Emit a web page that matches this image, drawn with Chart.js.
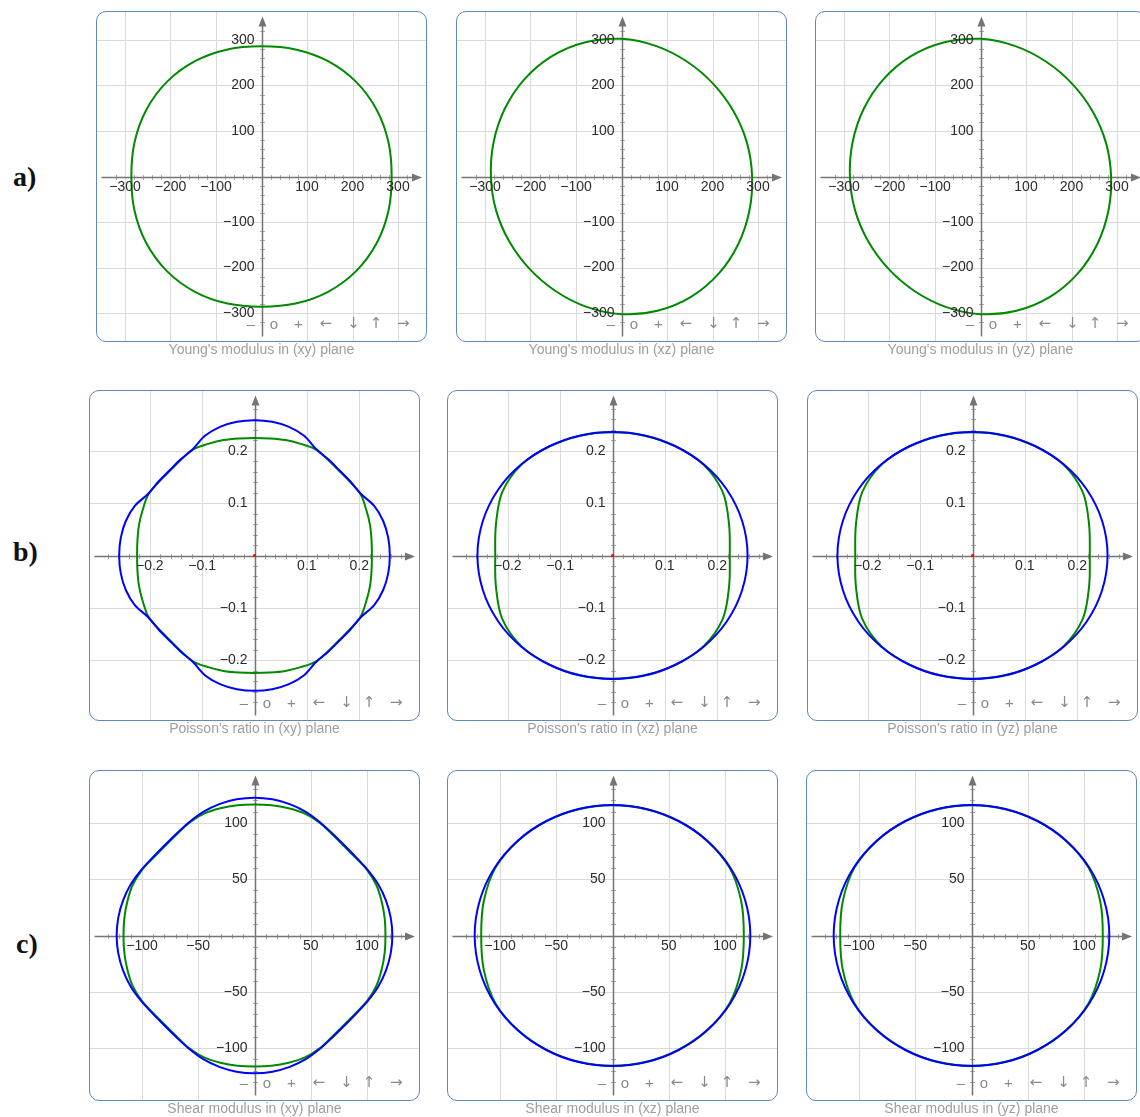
<!DOCTYPE html>
<html>
<head>
<meta charset="utf-8">
<title>Elastic properties – planar projections</title>
<script src="https://cdn.jsdelivr.net/npm/chart.js@4.4.1/dist/chart.umd.min.js"></script>
<style>
  html, body { margin: 0; padding: 0; background: #fff; }
  body { position: relative; width: 1140px; height: 1117px; overflow: hidden;
         font-family: "Liberation Sans", Arial, sans-serif; }
  .box { position: absolute; width: 331px; height: 331px; box-sizing: border-box;
         border: 1px solid #5f88bd; border-radius: 10px; overflow: hidden; background: #fff; }
  .box canvas { position: absolute; left: 0; top: 0; }
  .nav { position: absolute; transform: translate(-50%, -50%); font-size: 15px; line-height: 1;
         color: #8a8a8a; white-space: nowrap; }
  .nav.arrow { font-family: "DejaVu Sans", sans-serif; font-size: 15px; }
  .cap { position: absolute; width: 331px; text-align: center; font-size: 14px; line-height: 16px;
         color: #9e9e9e; white-space: nowrap; }
  .row { position: absolute; font-family: "Liberation Serif", "DejaVu Serif", serif; font-weight: bold;
         font-size: 28px; line-height: 28px; color: #111; }
</style>
</head>
<body>
<script>
// Polar angles (degrees) at which each directional value is given
const ANG = [0, 15, 30, 45, 60, 75, 90, 105, 120, 135, 150, 165,
             180, 195, 210, 225, 240, 255, 270, 285, 300, 315, 330, 345];
const ANG_FINE = [0, 7.5, 15, 22.5, 30, 37.5, 45, 52.5, 60, 67.5, 75, 82.5,
                  90, 97.5, 105, 112.5, 120, 127.5, 135, 142.5, 150, 157.5, 165, 172.5,
                  180, 187.5, 195, 202.5, 210, 217.5, 225, 232.5, 240, 247.5, 255, 262.5,
                  270, 277.5, 285, 292.5, 300, 307.5, 315, 322.5, 330, 337.5, 345, 352.5];

// Young's modulus (GPa) in each plane
const youngXY = [286, 289, 292.5, 294, 292.5, 289, 286, 289, 292.5, 294, 292.5, 289,
                 286, 289, 292.5, 294, 292.5, 289, 286, 289, 292.5, 294, 292.5, 289];
const youngXZ = [287, 285.5, 285, 286.5, 290.5, 296.5, 302.5, 305.5, 305.5, 302, 296.5, 291,
                 287, 285.5, 285, 286.5, 290.5, 296.5, 302.5, 305.5, 305.5, 302, 296.5, 291];
const youngYZ = [287, 285.5, 285, 286.5, 290.5, 296.5, 302.5, 305.5, 305.5, 302, 296.5, 291,
                 287, 285.5, 285, 286.5, 290.5, 296.5, 302.5, 305.5, 305.5, 302, 296.5, 291];

// Poisson's ratio: minimum (green) and maximum (blue); (xy) sampled on ANG_FINE
const poissonXYMin = [0.2243, 0.2255, 0.2283, 0.2308, 0.234, 0.2305, 0.2286, 0.2305, 0.234, 0.2308, 0.2283, 0.2255,
                      0.2243, 0.2255, 0.2283, 0.2308, 0.234, 0.2305, 0.2286, 0.2305, 0.234, 0.2308, 0.2283, 0.2255,
                      0.2243, 0.2255, 0.2283, 0.2308, 0.234, 0.2305, 0.2286, 0.2305, 0.234, 0.2308, 0.2283, 0.2255,
                      0.2243, 0.2255, 0.2283, 0.2308, 0.234, 0.2305, 0.2286, 0.2305, 0.234, 0.2308, 0.2283, 0.2255];
const poissonXYMax = [0.2585, 0.2577, 0.2545, 0.2475, 0.235, 0.2315, 0.2298, 0.2315, 0.235, 0.2475, 0.2545, 0.2577,
                      0.2585, 0.2577, 0.2545, 0.2475, 0.235, 0.2315, 0.2298, 0.2315, 0.235, 0.2475, 0.2545, 0.2577,
                      0.2585, 0.2577, 0.2545, 0.2475, 0.235, 0.2315, 0.2298, 0.2315, 0.235, 0.2475, 0.2545, 0.2577,
                      0.2585, 0.2577, 0.2545, 0.2475, 0.235, 0.2315, 0.2298, 0.2315, 0.235, 0.2475, 0.2545, 0.2577];
const poissonXZMin = [0.224, 0.2305, 0.243, 0.2455, 0.2405, 0.237, 0.2355, 0.237, 0.2405, 0.2455, 0.243, 0.2305,
                      0.224, 0.2305, 0.243, 0.2455, 0.2405, 0.237, 0.2355, 0.237, 0.2405, 0.2455, 0.243, 0.2305];
const poissonXZMax = [0.258, 0.2563, 0.252, 0.2463, 0.241, 0.2375, 0.236, 0.2375, 0.241, 0.2463, 0.252, 0.2563,
                      0.258, 0.2563, 0.252, 0.2463, 0.241, 0.2375, 0.236, 0.2375, 0.241, 0.2463, 0.252, 0.2563];
const poissonYZMin = [0.224, 0.2305, 0.243, 0.2455, 0.2405, 0.237, 0.2355, 0.237, 0.2405, 0.2455, 0.243, 0.2305,
                      0.224, 0.2305, 0.243, 0.2455, 0.2405, 0.237, 0.2355, 0.237, 0.2405, 0.2455, 0.243, 0.2305];
const poissonYZMax = [0.258, 0.2563, 0.252, 0.2463, 0.241, 0.2375, 0.236, 0.2375, 0.241, 0.2463, 0.252, 0.2563,
                      0.258, 0.2563, 0.252, 0.2463, 0.241, 0.2375, 0.236, 0.2375, 0.241, 0.2463, 0.252, 0.2563];

// Shear modulus (GPa): minimum (green) and maximum (blue); (xy) sampled on ANG_FINE
const shearXYMin = [116.4, 116.7, 117, 117.2, 115.8, 113.3, 112.4, 113.3, 115.8, 117.2, 117, 116.7,
                    116.4, 116.7, 117, 117.2, 115.8, 113.3, 112.4, 113.3, 115.8, 117.2, 117, 116.7,
                    116.4, 116.7, 117, 117.2, 115.8, 113.3, 112.4, 113.3, 115.8, 117.2, 117, 116.7,
                    116.4, 116.7, 117, 117.2, 115.8, 113.3, 112.4, 113.3, 115.8, 117.2, 117, 116.7];
const shearXYMax = [122.5, 122.1, 120.9, 119, 116.3, 114, 113.2, 114, 116.3, 119, 120.9, 122.1,
                    122.5, 122.1, 120.9, 119, 116.3, 114, 113.2, 114, 116.3, 119, 120.9, 122.1,
                    122.5, 122.1, 120.9, 119, 116.3, 114, 113.2, 114, 116.3, 119, 120.9, 122.1,
                    122.5, 122.1, 120.9, 119, 116.3, 114, 113.2, 114, 116.3, 119, 120.9, 122.1];
const shearXZMin = [116.7, 118.4, 120.2, 118.9, 117.3, 116.2, 115.8, 116.2, 117.3, 118.9, 120.2, 118.4,
                    116.7, 118.4, 120.2, 118.9, 117.3, 116.2, 115.8, 116.2, 117.3, 118.9, 120.2, 118.4];
const shearXZMax = [122.5, 122, 120.8, 119.1, 117.5, 116.4, 116, 116.4, 117.5, 119.1, 120.8, 122,
                    122.5, 122, 120.8, 119.1, 117.5, 116.4, 116, 116.4, 117.5, 119.1, 120.8, 122];
const shearYZMin = [116.7, 118.4, 120.2, 118.9, 117.3, 116.2, 115.8, 116.2, 117.3, 118.9, 120.2, 118.4,
                    116.7, 118.4, 120.2, 118.9, 117.3, 116.2, 115.8, 116.2, 117.3, 118.9, 120.2, 118.4];
const shearYZMax = [122.5, 122, 120.8, 119.1, 117.5, 116.4, 116, 116.4, 117.5, 119.1, 120.8, 122,
                    122.5, 122, 120.8, 119.1, 117.5, 116.4, 116, 116.4, 117.5, 119.1, 120.8, 122];

// Labelled axis ticks for each property
const youngTicks = [-300, -200, -100, 100, 200, 300];
const poissonTicks = [-0.2, -0.1, 0.1, 0.2];
const shearTicks = [-100, -50, 50, 100];

// Text
const rowLabels = ['a)', 'b)', 'c)'];
const captions = [
  "Young's modulus in (xy) plane", "Young's modulus in (xz) plane", "Young's modulus in (yz) plane",
  "Poisson's ratio in (xy) plane", "Poisson's ratio in (xz) plane", "Poisson's ratio in (yz) plane",
  "Shear modulus in (xy) plane", "Shear modulus in (xz) plane", "Shear modulus in (yz) plane"
];
const navButtons = ['\u2013', 'o', '+', '\u2190', '\u2193', '\u2191', '\u2192'];

// ---- layout and styling ----
const BOX = 331, INNER = 329;
const COLOR_MIN = '#008a00', COLOR_MAX = '#0000ff';

const rows = [
  { top: 11,  lefts: [96, 456, 815], half: 361.5,  ticks: youngTicks,   minor: 20,   per: 5, dec: 0, label: { left: 13, top: 163 } },
  { top: 390, lefts: [89, 447, 807], half: 0.3066, ticks: poissonTicks, minor: 0.02, per: 5, dec: 1, label: { left: 13, top: 538 }, originDot: true },
  { top: 770, lefts: [89, 447, 806], half: 146.2,  ticks: shearTicks,   minor: 10,   per: 5, dec: 0, label: { left: 16, top: 930 } }
];

// [min (green), max (blue), angles] per panel
const curveSets = [
  [youngXY, null, ANG], [youngXZ, null, ANG], [youngYZ, null, ANG],
  [poissonXYMin, poissonXYMax, ANG_FINE], [poissonXZMin, poissonXZMax, ANG], [poissonYZMin, poissonYZMax, ANG],
  [shearXYMin, shearXYMax, ANG_FINE], [shearXZMin, shearXZMax, ANG], [shearYZMin, shearYZMax, ANG]
];

const navX = [154, 177, 201.5, 228.7, 256.5, 279, 306.2];
const navY = 311.3;

function polarPoints(rs, angles) {
  return angles.map((a, i) => {
    const t = a * Math.PI / 180;
    return { x: rs[i] * Math.cos(t), y: rs[i] * Math.sin(t) };
  });
}

// Closed loop: one extra neighbour on each side so the spline is smooth at the seam;
// the two helper segments are drawn transparent.
function loopDataset(rs, angles, color, order) {
  const p = polarPoints(rs, angles);
  const n = p.length;
  const data = [p[n - 1], ...p, p[0], p[1]];
  const last = data.length - 2;
  return {
    data, order, showLine: true, borderColor: color, borderWidth: 2,
    pointRadius: 0, pointHoverRadius: 0, tension: 0.34, fill: false,
    segment: {
      borderColor: ctx => (ctx.p0DataIndex === 0 || ctx.p0DataIndex === last) ? 'rgba(0,0,0,0)' : color
    }
  };
}

function formatTick(v, dec) {
  return (v < 0 ? '\u2212' : '') + Math.abs(v).toFixed(dec);
}

function planeAxesPlugin(cfg) {
  return {
    id: 'planeAxes',
    beforeDatasetsDraw(chart) {
      const { ctx, scales: { x, y } } = chart;
      const W = chart.width, H = chart.height;
      const x0 = x.getPixelForValue(0), y0 = y.getPixelForValue(0);
      const ax = Math.round(x0) + 0.5, ay = Math.round(y0) + 0.5;
      ctx.save();
      // grid at labelled ticks
      ctx.lineWidth = 1;
      ctx.strokeStyle = '#dadada';
      ctx.beginPath();
      cfg.ticks.forEach(v => {
        const px = Math.round(x.getPixelForValue(v)) + 0.5;
        const py = Math.round(y.getPixelForValue(v)) + 0.5;
        ctx.moveTo(px, 0); ctx.lineTo(px, H);
        ctx.moveTo(0, py); ctx.lineTo(W, py);
      });
      ctx.stroke();
      // minor ticks along both axes
      ctx.strokeStyle = '#ababab';
      ctx.beginPath();
      const kmax = Math.floor(cfg.half / cfg.minor + 1e-9);
      const reach = W / 2 - 14;
      for (let k = -kmax; k <= kmax; k++) {
        if (k % cfg.per === 0) continue;
        const v = k * cfg.minor;
        const px = Math.round(x.getPixelForValue(v)) + 0.5;
        const py = Math.round(y.getPixelForValue(v)) + 0.5;
        if (Math.abs(px - x0) > reach) continue;
        ctx.moveTo(px, ay - 2.5); ctx.lineTo(px, ay + 2.5);
        ctx.moveTo(ax - 2.5, py); ctx.lineTo(ax + 2.5, py);
      }
      ctx.stroke();
      // axis lines with arrow heads
      ctx.strokeStyle = '#747474';
      ctx.fillStyle = '#747474';
      ctx.lineWidth = 1.5;
      const tipX = W - 4, tipY = 4.5;
      ctx.beginPath();
      ctx.moveTo(4.5, ay); ctx.lineTo(tipX - 9, ay);
      ctx.moveTo(ax, H - 4.5); ctx.lineTo(ax, tipY + 9);
      ctx.stroke();
      ctx.beginPath();
      ctx.moveTo(tipX, ay); ctx.lineTo(tipX - 10, ay - 4); ctx.lineTo(tipX - 10, ay + 4); ctx.closePath();
      ctx.moveTo(ax, tipY); ctx.lineTo(ax - 4, tipY + 10); ctx.lineTo(ax + 4, tipY + 10); ctx.closePath();
      ctx.fill();
      ctx.restore();
    },
    afterDatasetsDraw(chart) {
      const { ctx, scales: { x, y } } = chart;
      const x0 = x.getPixelForValue(0), y0 = y.getPixelForValue(0);
      ctx.save();
      ctx.font = '14px "Liberation Sans", Arial, sans-serif';
      ctx.fillStyle = '#2b2b2b';
      ctx.textBaseline = 'middle';
      ctx.textAlign = 'center';
      cfg.ticks.forEach(v => ctx.fillText(formatTick(v, cfg.dec), x.getPixelForValue(v), y0 + 10.5));
      ctx.textAlign = 'right';
      cfg.ticks.forEach(v => ctx.fillText(formatTick(v, cfg.dec), x0 - 7, y.getPixelForValue(v)));
      ctx.restore();
    }
  };
}

rows.forEach((row, r) => {
  const lab = document.createElement('div');
  lab.className = 'row';
  lab.textContent = rowLabels[r];
  lab.style.left = row.label.left + 'px';
  lab.style.top = row.label.top + 'px';
  document.body.appendChild(lab);

  row.lefts.forEach((left, c) => {
    const idx = r * 3 + c;
    const box = document.createElement('div');
    box.className = 'box';
    box.style.left = left + 'px';
    box.style.top = row.top + 'px';
    const canvas = document.createElement('canvas');
    canvas.width = INNER; canvas.height = INNER;
    canvas.style.width = INNER + 'px'; canvas.style.height = INNER + 'px';
    box.appendChild(canvas);
    navButtons.forEach((b, i) => {
      const s = document.createElement('span');
      s.className = i >= 3 ? 'nav arrow' : 'nav';
      s.textContent = b;
      s.style.left = navX[i] + 'px';
      s.style.top = navY + 'px';
      box.appendChild(s);
    });
    document.body.appendChild(box);

    const cap = document.createElement('div');
    cap.className = 'cap';
    cap.textContent = captions[idx];
    cap.style.left = left + 'px';
    cap.style.top = (row.top + BOX - 1.5) + 'px';
    document.body.appendChild(cap);

    const [minR, maxR, angles] = curveSets[idx];
    const datasets = [loopDataset(minR, angles, COLOR_MIN, 2)];
    if (maxR) datasets.push(loopDataset(maxR, angles, COLOR_MAX, 1));
    if (row.originDot) {
      datasets.push({ data: [{ x: 0, y: 0 }], order: 0, showLine: false, pointRadius: 1.5,
                      pointBackgroundColor: '#ff0000', pointBorderWidth: 0 });
    }

    new Chart(canvas, {
      type: 'scatter',
      data: { datasets },
      options: {
        responsive: false, maintainAspectRatio: false, animation: false,
        devicePixelRatio: 1,
        layout: { padding: 0 },
        events: [],
        plugins: { legend: { display: false }, tooltip: { enabled: false } },
        scales: {
          x: { type: 'linear', min: -row.half, max: row.half, display: false },
          y: { type: 'linear', min: -row.half, max: row.half, display: false }
        }
      },
      plugins: [planeAxesPlugin(row)]
    });
  });
});
</script>
</body>
</html>
